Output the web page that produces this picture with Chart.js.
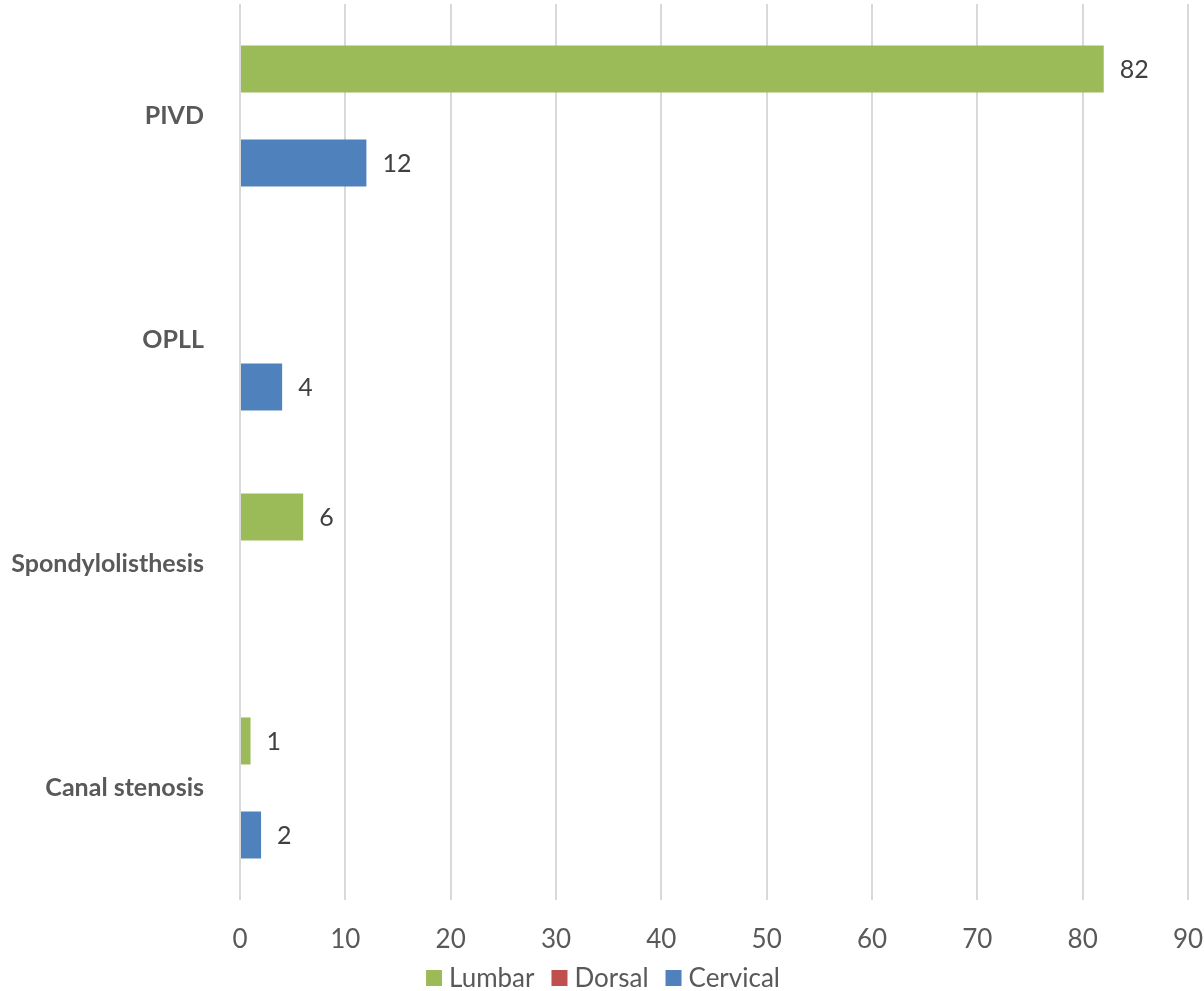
<!DOCTYPE html>
<html>
<head>
<meta charset="utf-8">
<script src="https://cdn.jsdelivr.net/npm/chart.js"></script>
</head>
<body style="margin:0;padding:0;background:#fff;">
<div style="width:1204px;height:991px;">
  <canvas id="spineChart" width="1204" height="991"></canvas>
</div>
<script>
  const categories = ['PIVD', 'OPLL', 'Spondylolisthesis', 'Canal stenosis'];
  const lumbar = [82, null, 6, 1];
  const dorsal = [null, null, null, null];
  const cervical = [12, 4, null, 2];
  const xTicks = [0, 10, 20, 30, 40, 50, 60, 70, 80, 90];

  const FONT = 'Lato, "Open Sans", sans-serif';

  // draws the value right after each bar
  const valueLabels = {
    id: 'valueLabels',
    afterDatasetsDraw(chart) {
      const ctx = chart.ctx;
      ctx.save();
      ctx.font = '25px ' + FONT;
      ctx.fillStyle = '#404040';
      ctx.textAlign = 'left';
      ctx.textBaseline = 'middle';
      chart.data.datasets.forEach((ds, i) => {
        chart.getDatasetMeta(i).data.forEach((bar, j) => {
          const v = ds.data[j];
          if (v === null || v === undefined) return;
          ctx.fillText(String(v), bar.x + 16, bar.y + 1);
        });
      });
      ctx.restore();
    }
  };

  // excel-like legend under the axis: small square, text, centred row
  const bottomLegend = {
    id: 'bottomLegend',
    afterDraw(chart) {
      const ctx = chart.ctx;
      const box = 16, gapIn = 7, gapOut = 17;
      const y = 978;
      ctx.save();
      ctx.font = '26px ' + FONT;
      ctx.textBaseline = 'middle';
      ctx.textAlign = 'left';
      const items = chart.data.datasets.map(ds => ({
        text: ds.label,
        color: ds.backgroundColor,
        w: ctx.measureText(ds.label).width
      }));
      let total = 0;
      items.forEach((it, i) => {
        total += box + gapIn + it.w + (i < items.length - 1 ? gapOut : 0);
      });
      let x = 603 - total / 2;
      items.forEach(it => {
        ctx.fillStyle = it.color;
        ctx.fillRect(x, y - box / 2, box, box);
        ctx.fillStyle = '#595959';
        ctx.fillText(it.text, x + box + gapIn, y + 1);
        x += box + gapIn + it.w + gapOut;
      });
      ctx.restore();
    }
  };

  new Chart(document.getElementById('spineChart'), {
    type: 'bar',
    data: {
      labels: categories,
      datasets: [{
        label: 'Lumbar',
        data: lumbar,
        backgroundColor: '#9BBB59'
      }, {
        label: 'Dorsal',
        data: dorsal,
        backgroundColor: '#C0504D'
      }, {
        label: 'Cervical',
        data: cervical,
        backgroundColor: '#4F81BD'
      }]
    },
    options: {
      indexAxis: 'y',
      responsive: false,
      animation: false,
      categoryPercentage: 0.63,
      barPercentage: 1.0,
      layout: { padding: { top: 4, right: 16, left: 0, bottom: 0 } },
      plugins: {
        tooltip: { enabled: false },
        legend: { display: false }
      },
      scales: {
        x: {
          min: 0,
          max: 90,
          afterBuildTicks(scale) {
            scale.ticks = xTicks.map(v => ({ value: v }));
          },
          grid: { color: '#d9d9d9', lineWidth: 2, drawTicks: false },
          border: { display: false },
          ticks: {
            color: '#595959',
            padding: 24,
            font: { family: FONT, size: 26 }
          },
          afterFit(scale) {
            scale.height = 91;
            scale.paddingLeft = 0;
            scale.paddingRight = 0;
          }
        },
        y: {
          grid: { display: false, drawTicks: false },
          border: { display: false },
          ticks: {
            color: '#595959',
            padding: 36,
            font: { family: FONT, size: 25, weight: 'bold' }
          },
          afterFit(scale) {
            scale.width = 240;
            scale.paddingTop = 0;
            scale.paddingBottom = 0;
          }
        }
      }
    },
    plugins: [valueLabels, bottomLegend]
  });
</script>
</body>
</html>
